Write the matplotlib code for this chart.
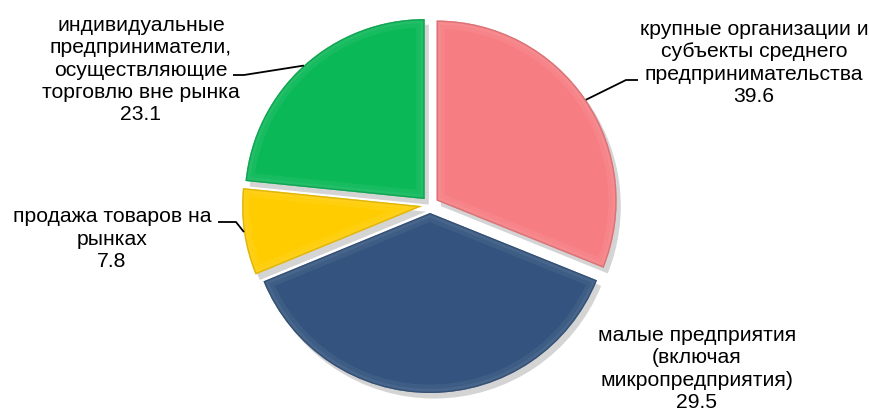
import numpy as np
import matplotlib
matplotlib.use("Agg")
import matplotlib.pyplot as plt
import matplotlib.patheffects as pe
from matplotlib.patches import Wedge

# Data (clockwise from 12 o'clock)
categories = [
    "крупные организации и\nсубъекты среднего\nпредпринимательства",
    "малые предприятия\n(включая\nмикропредприятия)",
    "продажа товаров на\nрынках",
    "индивидуальные\nпредприниматели,\nосуществляющие\nторговлю вне рынка",
]
label_values = [39.6, 29.5, 7.8, 23.1]      # numbers printed on the chart
slice_shares = [31.1, 37.7, 7.8, 23.4]      # wedge sizes as drawn in the picture
colors = ["#F67D82", "#34547F", "#FFCC00", "#0AB857"]

plt.rcParams["font.family"] = ["Liberation Sans", "DejaVu Sans"]

fig = plt.figure(figsize=(8.7, 4.11), dpi=100)
ax = fig.add_axes([0, 0, 1, 1])

R = 180
wedges, _ = ax.pie(slice_shares, colors=colors, startangle=90, counterclock=False,
                   radius=R, center=(430, 206), explode=[8] * 4, frame=True,
                   wedgeprops=dict(linewidth=0))
ax.set_xlim(0, 870)
ax.set_ylim(0, 411)
ax.set_aspect("equal")
ax.axis("off")

# soft shadow + subtle bevel bands
for w, c in zip(wedges, colors):
    rgb = np.array(matplotlib.colors.to_rgb(c))
    w.set_path_effects([
        pe.SimplePatchShadow(offset=(3, -4), shadow_rgbFace="0.45", alpha=0.3),
        pe.Normal(),
    ])
    light = tuple(rgb + (1 - rgb) * 0.3)
    dark = tuple(rgb * 0.8)
    for col, lw, a in [(light, 12, 0.18), (light, 6, 0.2), (dark, 2, 0.6)]:
        band = Wedge(w.center, w.r, w.theta1, w.theta2, facecolor="none",
                     edgecolor=col, linewidth=lw, alpha=a)
        ax.add_patch(band)
        band.set_clip_path(w)

# label blocks: (text centre x, centre y, elbow x, elbow y, text end x)
label_layout = [
    (754, 411 - 63, 626, 411 - 80, 638),
    (697, 411 - 369, None, None, None),
    (112, 411 - 239, 236, 411 - 222, 218),
    (141, 411 - 70, 244, 411 - 75, 233),
]

for w, name, val, (tx, ty, ex, ey, endx) in zip(wedges, categories, label_values, label_layout):
    ax.text(tx, ty, f"{name}\n{val}", ha="center", va="center", fontsize=15.2,
            linespacing=1.22, color="black")
    if ex is None:
        continue
    mid = np.deg2rad((w.theta1 + w.theta2) / 2)
    cx, cy = w.center
    px, py = cx + w.r * np.cos(mid), cy + w.r * np.sin(mid)
    ax.plot([px, ex, endx], [py, ey, ey], color="black", lw=1.3, solid_capstyle="butt")

fig.savefig("out.png", dpi=100)
